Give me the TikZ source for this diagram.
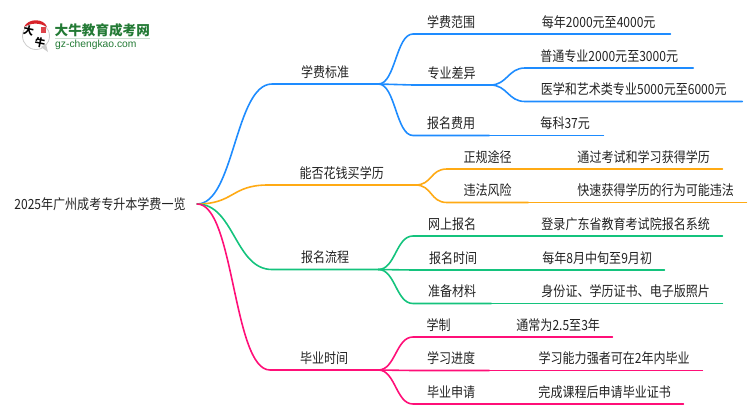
\documentclass[tikz,border=0pt]{standalone}
\usepackage{fontspec}
\setmainfont[FakeStretch=0.86]{Noto Sans CJK SC}
\setsansfont{Liberation Sans}
\newfontfamily\logofont{Noto Sans CJK SC}
\definecolor{lanA}{HTML}{1E8CFF}
\definecolor{camB}{HTML}{FFAA14}
\definecolor{lucC}{HTML}{14C37D}
\definecolor{hongD}{HTML}{FF0F78}
\definecolor{chu}{HTML}{222222}
\definecolor{logoG}{HTML}{237A35}
\definecolor{logoR}{HTML}{D8232A}
\tikzset{
    lab/.style={inner sep=0pt,minimum height=24pt,anchor=south west,text=chu,font=\fontsize{14}{16}\selectfont},
    nhanh/.style={line width=1.6pt,line cap=round}
}
\begin{document}
\begin{tikzpicture}[x=1pt,y=-1pt]
    \useasboundingbox (0,0) rectangle (750,410);
    %gốc
    \node[inner sep=0pt,minimum width=194pt,minimum height=24pt,text=chu,font=\fontsize{14}{16}\selectfont] (goc) at (100,204) {2025年广州成考专升本学费一览};
    %các nhánh: tên/x/y/rộng/chữ
    \foreach \n/\x/\y/\w/\t in {
        a/272/84/106/学费标准,
        a1/413/34/76/学费范围,a2/413/85/77/专业差异,a3/413/135.5/76/报名费用,
        a1x/527/34/143/每年2000元至4000元,
        a21/525/68/168/普通专业2000元至3000元,a22/525/101.5/217/医学和艺术类专业5000元至6000元,
        a3x/527/135.5/76/每科37元,
        b/268/185/147/能否花钱买学历,
        b1/447/169/81/正规途径,b2/447/202.5/81/违法风险,
        b1x/565/169/157/通过考试和学习获得学历,b2x/565/202.5/181/快速获得学历的行为可能违法,
        c/272/269.5/106/报名流程,
        c1/413/236/78/网上报名,c2/413/270/80/报名时间,c3/413/303.5/78/准备材料,
        c1x/529/236/193/登录广东省教育考试院报名系统,c2x/530/270/134/每年8月中旬至9月初,c3x/529/303.5/193/身份证、学历证书、电子版照片,
        d/270/370/108/毕业时间,
        d1/413/337/51/学制,d2/413/370.5/76/学习进度,d3/413/404/76/毕业申请,
        d1x/504/337/108/通常为2.5至3年,d2x/526/370.5/176/学习能力强者可在2年内毕业,d3x/526/404/157/完成课程后申请毕业证书
    } \node[lab,minimum width=\w pt] (\n) at (\x,\y) {\t};
    %gốc sang nhánh chính
    \foreach \b/\m in {a/lanA,b/camB,c/lucC,d/hongD}
    \draw[nhanh,\m] (goc.east) .. controls +(37,0) and +(-37,0) .. (\b.south west) -- (\b.south east);
    %nhánh chính sang nhánh con
    \foreach \a/\b/\m in {a/a1/lanA,a/a2/lanA,a/a3/lanA,b/b1/camB,b/b2/camB,c/c1/lucC,c/c2/lucC,c/c3/lucC,d/d1/hongD,d/d2/hongD,d/d3/hongD,a2/a21/lanA,a2/a22/lanA}
    \draw[nhanh,\m] (\a.south east) .. controls +(17,0) and +(-17,0) .. (\b.south west) -- (\b.south east);
    %nhánh con sang lá
    \foreach \a/\m in {a1/lanA,a3/lanA,b1/camB,b2/camB,c1/lucC,c2/lucC,c3/lucC,d1/hongD,d2/hongD,d3/hongD}
    \draw[nhanh,\m] (\a.south east) -- (\a x.south west) -- (\a x.south east);
    %logo
    \fill[white,draw=black!20,line width=0.8pt] (36,36) circle (13.5);
    \fill[black!20] (41,47) -- (48,52) -- (46,44) -- cycle;
    \fill[logoR] (24,27) .. controls (28,18) and (44,18) .. (47,27) .. controls (40,22.5) and (31,22.5) .. (24,27) -- cycle;
    \fill[logoR!85] (41,27) rectangle (45.5,33);
    \node[inner sep=0pt,rotate=-12,font=\logofont\bfseries\fontsize{10.5}{11}\selectfont] (logoa) at (28.5,30.5) {大};
    \node[inner sep=0pt,rotate=-12,font=\logofont\bfseries\fontsize{10.5}{11}\selectfont] (logob) at (40,43) {牛};
    \node[inner sep=0pt,anchor=west,text=logoG,font=\logofont\bfseries\fontsize{13.6}{14}\selectfont] (logoc) at (54.5,30) {大牛教育成考网};
    \node[inner sep=0pt,anchor=west,text=logoG,font=\sffamily\fontsize{10.3}{12}\selectfont] (logod) at (55,45) {gz-chengkao.com};
    \draw[logoG!25,line width=0.8pt] (logoc.south west)++(0,1.5) -- ++(95,0);
\end{tikzpicture}
\end{document}
